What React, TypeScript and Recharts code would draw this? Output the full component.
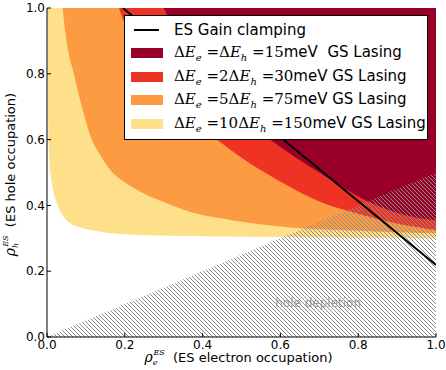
import React from 'react';
import { ComposedChart, Area, Line, XAxis, YAxis, ReferenceDot, Legend, Label } from 'recharts';

const ticks = [0, 0.2, 0.4, 0.6, 0.8, 1.0];

// lower edge (rho_e, rho_h) of each GS lasing region, region goes up to rho_h = 1
const gs150: [number, number][] = [
  [0.001, 1.0], [0.004, 0.6], [0.009, 0.5], [0.016, 0.447], [0.029, 0.396], [0.045, 0.362],
  [0.06, 0.346], [0.08, 0.335], [0.1, 0.328], [0.15, 0.318], [0.24, 0.31], [0.4, 0.306],
  [0.6, 0.304], [0.8, 0.302], [1.0, 0.3],
];
const gs75: [number, number][] = [
  [0.04, 1.0], [0.05, 0.9], [0.069, 0.8], [0.085, 0.72], [0.1, 0.655], [0.115, 0.6],
  [0.136, 0.555], [0.162, 0.508], [0.2, 0.47], [0.239, 0.442], [0.3, 0.41], [0.368, 0.38],
  [0.45, 0.36], [0.5, 0.35], [0.625, 0.333], [0.75, 0.325], [0.875, 0.319], [1.0, 0.315],
];
const gs30: [number, number][] = [
  [0.185, 1.0], [0.21, 0.92], [0.25, 0.83], [0.3, 0.75], [0.36, 0.68], [0.437, 0.6],
  [0.5, 0.545], [0.56, 0.5], [0.625, 0.456], [0.7, 0.412], [0.8, 0.375], [0.9, 0.345],
  [1.0, 0.325],
];
const gs15: [number, number][] = [
  [0.3, 1.0], [0.34, 0.9], [0.39, 0.8], [0.45, 0.72], [0.51, 0.655], [0.573, 0.6],
  [0.64, 0.545], [0.7, 0.5], [0.76, 0.455], [0.82, 0.415], [0.88, 0.385], [0.94, 0.365],
  [1.0, 0.355],
];
// ES gain clamping line
const clamping: [number, number][] = [[0.195, 1.0], [1.0, 0.219]];
// hole depletion (hatched) upper edge
const depletion: [number, number][] = [[0.0, 0.0], [1.0, 0.5]];

const toBand = (pts: [number, number][]) => pts.map(([x, y]) => ({ x, band: [y, 1] }));

const series = [
  { key: 'gs150', pts: gs150, color: '#fee08b', label: '10', value: '150', gap: 'meV GS Lasing' },
  { key: 'gs75', pts: gs75, color: '#fd9b43', label: '5', value: '75', gap: 'meV GS Lasing' },
  { key: 'gs30', pts: gs30, color: '#ee3224', label: '2', value: '30', gap: 'meV GS Lasing' },
  { key: 'gs15', pts: gs15, color: '#98002a', label: '', value: '15', gap: 'meV\u00a0 GS Lasing' },
];

const serif = '"DejaVu Serif", serif';

const Sub = ({ c }: { c: string }) => (
  <span style={{ fontSize: 10, fontStyle: 'italic', position: 'relative', top: 4 }}>{c}</span>
);

const LegendBox = () => {
  const rows = [...series].reverse();
  const centers = [14, 37, 61, 84, 108];
  return (
    <div
      style={{
        width: 304, height: 125, boxSizing: 'border-box', border: '1px solid #000',
        background: '#fff', position: 'relative', fontFamily: '"DejaVu Sans", sans-serif',
        fontSize: 15, color: '#000', lineHeight: '20px',
      }}
    >
      <div style={{ position: 'absolute', top: centers[0] - 10, left: 0, height: 20, display: 'flex', alignItems: 'center' }}>
        <div style={{ marginLeft: 9, width: 25, height: 2, background: '#000' }} />
        <span style={{ marginLeft: 15, whiteSpace: 'nowrap' }}>ES Gain clamping</span>
      </div>
      {rows.map((s, i) => (
        <div key={s.key} style={{ position: 'absolute', top: centers[i + 1] - 10, left: 0, height: 20, display: 'flex', alignItems: 'center', whiteSpace: 'nowrap' }}>
          <div style={{ marginLeft: 6, width: 32, height: 10, background: s.color }} />
          <span style={{ marginLeft: 11 }}>
            <span style={{ fontFamily: serif }}>
              Δ<i>E</i><Sub c="e" /> ={s.label}Δ<i>E</i><Sub c="h" /> ={s.value}
            </span>
            {s.gap}
          </span>
        </div>
      ))}
    </div>
  );
};

const XTitle = (props: any) => {
  const { viewBox } = props;
  const cx = viewBox.x + viewBox.width / 2 - 3;
  return (
    <text x={cx} y={362} textAnchor="middle" fill="#000" fontSize={13} fontFamily='"DejaVu Sans", sans-serif'>
      <tspan fontFamily={serif} fontStyle="italic" fontSize={14}>ρ</tspan>
      <tspan fontFamily={serif} fontStyle="italic" fontSize={8} dy={3}>e</tspan>
      <tspan fontFamily={serif} fontStyle="italic" fontSize={8} dx={-4} dy={-10}>ES</tspan>
      <tspan dy={7}>{'\u00a0 (ES electron occupation)'}</tspan>
    </text>
  );
};

const YTitle = (props: any) => {
  const { viewBox } = props;
  const cy = viewBox.y + viewBox.height / 2 + 2;
  const x = 15;
  return (
    <text x={x} y={cy} transform={`rotate(-90, ${x}, ${cy})`} textAnchor="middle" fill="#000" fontSize={13} fontFamily='"DejaVu Sans", sans-serif'>
      <tspan fontFamily={serif} fontStyle="italic" fontSize={14}>ρ</tspan>
      <tspan fontFamily={serif} fontStyle="italic" fontSize={8} dy={3}>h</tspan>
      <tspan fontFamily={serif} fontStyle="italic" fontSize={8} dx={-4} dy={-10}>ES</tspan>
      <tspan dy={7}>{'\u00a0 (ES hole occupation)'}</tspan>
    </text>
  );
};

const empty = () => <g />;

export default function App() {
  return (
    <div style={{ position: 'absolute', left: 0, top: 0, width: 446, height: 370, background: '#fff', fontFamily: '"DejaVu Sans", sans-serif' }}>
      <ComposedChart width={446} height={370} margin={{ top: 8, right: 10, bottom: 0, left: 0 }}>
        <defs>
          <pattern id="hatch" patternUnits="userSpaceOnUse" width={4} height={4}>
            <path d="M0,0 L4,4 M-1,3 L1,5 M3,-1 L5,1" stroke="#8c8c8c" strokeWidth={1} />
          </pattern>
        </defs>
        <XAxis
          dataKey="x" type="number" domain={[0, 1]} ticks={ticks} allowDataOverflow
          tickFormatter={(v: number) => v.toFixed(1)} tickSize={-4} tickMargin={7} height={33}
          axisLine={{ stroke: '#000' }} tickLine={{ stroke: '#000' }}
          tick={{ fill: '#000', fontSize: 12 }}
        >
          <Label content={<XTitle />} />
        </XAxis>
        <XAxis
          xAxisId="top" orientation="top" dataKey="x" type="number" domain={[0, 1]} ticks={ticks}
          allowDataOverflow tickSize={-4} height={0} axisLine={{ stroke: '#000' }}
          tickLine={{ stroke: '#000' }} tick={empty}
        />
        <YAxis
          type="number" domain={[0, 1]} ticks={ticks} allowDataOverflow
          tickFormatter={(v: number) => v.toFixed(1)} tickSize={-4} tickMargin={6} width={47}
          axisLine={{ stroke: '#000' }} tickLine={{ stroke: '#000' }}
          tick={{ fill: '#000', fontSize: 12 }}
        >
          <Label content={<YTitle />} />
        </YAxis>
        <YAxis
          yAxisId="right" orientation="right" type="number" domain={[0, 1]} ticks={ticks}
          allowDataOverflow tickSize={-4} width={0} axisLine={{ stroke: '#000' }}
          tickLine={{ stroke: '#000' }} tick={empty}
        />
        {series.map((s) => (
          <Area
            key={s.key} data={toBand(s.pts)} dataKey="band" type="monotone"
            fill={s.color} fillOpacity={1} stroke="none" isAnimationActive={false}
          />
        ))}
        <Area
          data={depletion.map(([x, y]) => ({ x, band: [0, y] }))} dataKey="band" type="linear"
          fill="url(#hatch)" fillOpacity={1} stroke="none" isAnimationActive={false}
        />
        <Line
          data={clamping.map(([x, y]) => ({ x, y }))} dataKey="y" type="linear"
          stroke="#000" strokeWidth={2} dot={false} isAnimationActive={false}
        />
        <ReferenceDot
          x={0.697} y={0.105} r={1} fill="none" stroke="none"
          label={{ value: 'hole depletion', position: 'center', fill: '#9a9a9a', fontSize: 12 }}
        />
        <Legend
          content={<LegendBox />} layout="vertical" align="center" verticalAlign="middle"
          wrapperStyle={{ position: 'absolute', top: 15, left: 124, width: 304, height: 125 }}
        />
      </ComposedChart>
    </div>
  );
}
